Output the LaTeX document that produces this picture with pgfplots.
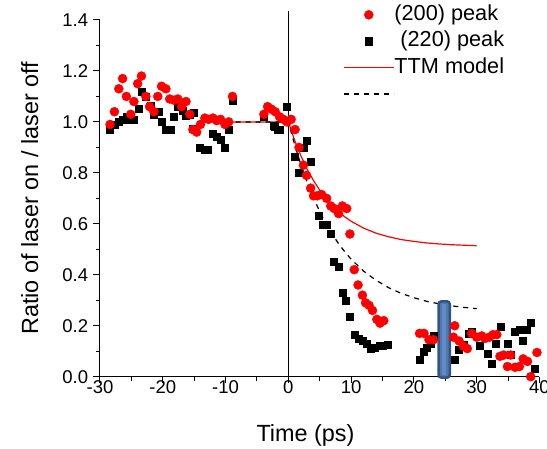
\documentclass[border=0pt]{standalone}
\usepackage{pgfplots}
\pgfplotsset{compat=1.18}
\usepackage{fontspec}
\setmainfont{Liberation Sans}
\definecolor{barfill}{RGB}{79,120,176}
\definecolor{barline}{RGB}{52,84,130}
\definecolor{barlight}{RGB}{98,138,196}
\begin{document}
\begin{tikzpicture}
\begin{axis}[
  at={(0pt,0pt)}, anchor=south west,
  scale only axis, width=439.5pt, height=356.7pt,
  xmin=-30, xmax=40, ymin=0, ymax=1.4,
  clip=false,
  axis lines=left, axis line style={-, line width=1pt},
  xtick={-30,-20,-10,0,10,20,30,40},
  ytick={0,0.2,0.4,0.6,0.8,1.0,1.2,1.4},
  minor x tick num=1, minor y tick num=1,
  tick align=outside, major tick length=6.5pt, minor tick length=4pt,
  every tick/.style={line width=1pt, black},
  /pgf/number format/assume math mode=true,
  y tick label style={/pgf/number format/fixed, /pgf/number format/fixed zerofill, /pgf/number format/precision=1},
  tick label style={font=\fontsize{18.5}{20}\selectfont},
  xticklabel style={anchor=base, yshift=-10pt},
  yticklabel style={anchor=east, inner xsep=0pt, xshift=-5.2pt},
  xlabel={Time (ps)},
  ylabel={Ratio of laser on / laser off},
  label style={font=\fontsize{23.4}{26}\selectfont},
  xlabel style={at={(axis description cs:0.4676,-0.1822)}, anchor=base},
  ylabel style={at={(axis description cs:-0.141,0.5)}, anchor=base},
  legend style={at={(axis description cs:0.5529,1.0437)}, anchor=north west,
    draw=none, fill=none, inner sep=0pt,
    font=\fontsize{21.7}{24}\selectfont, row sep=6pt,
    nodes={inner sep=0pt, text height=15.6pt, text depth=4.8pt},
    /tikz/every even column/.append style={column sep=9pt}},
  legend cell align=left,
  legend image code/.code={\draw[mark repeat=2,mark phase=2,#1] plot coordinates {(0pt,0pt) (25pt,0pt) (50pt,0pt)};},
]
\addplot[black, line width=1pt, forget plot] coordinates {(0,0) (0,1.435)};
% (220) peak
\addplot[black, only marks, mark=square*, mark size=3.5pt, mark options={draw=none, fill=black}, forget plot] coordinates {
(-28.4,0.97) (-27.7,0.99) (-27.1,1.00) (-26.4,1.01) (-25.8,1.02) (-25.1,1.01) (-24.6,1.01)
(-23.9,1.05) (-23.3,1.12) (-22.7,1.10) (-22.0,1.065) (-21.4,1.03) (-20.7,1.04) (-20.1,1.00)
(-19.5,0.97) (-18.8,0.97) (-18.2,1.02) (-17.6,1.06) (-16.9,1.045) (-16.3,1.025) (-15.7,1.03)
(-15.0,1.035) (-15.2,0.975) (-14.1,0.90) (-13.4,0.89) (-12.8,0.89) (-12.0,0.955) (-11.4,0.94)
(-10.8,0.93) (-10.1,0.90) (-9.5,0.97) (-8.9,1.085)
(-3.9,1.02) (-2.4,0.985) (-2.1,0.98) (-1.75,0.97) (-1.4,0.97) (-0.2,1.06)
(1.07,0.865) (1.7,0.80) (2.4,0.90) (2.9,0.925) (3.55,0.845)
(4.9,0.63) (5.5,0.595) (6.1,0.595) (6.75,0.56) (7.3,0.45) (8.0,0.43) (8.6,0.33) (9.1,0.30)
(9.8,0.235) (10.5,0.165) (11.15,0.15) (11.8,0.14) (12.5,0.13) (13.1,0.11) (13.8,0.115)
(14.5,0.12) (15.1,0.12) (15.8,0.125)
(20.9,0.065) (21.5,0.10) (22.0,0.115) (22.6,0.13) (23.2,0.16)
(26.5,0.065) (27.2,0.105) (27.9,0.125) (28.7,0.17) (29.2,0.175) (30.4,0.12) (31.7,0.09)
(32.4,0.05) (33.1,0.13) (33.8,0.195) (34.9,0.13) (35.4,0.085) (36.1,0.175) (36.8,0.185)
(37.4,0.14) (37.9,0.185) (38.6,0.21) (39.3,0.03)
};
% (200) peak
\addplot[red, only marks, mark=*, mark size=4.5pt, mark options={draw=none, fill=red}] coordinates {
(-28.4,0.99) (-27.7,1.04) (-27.0,1.13) (-26.4,1.17) (-25.8,1.10) (-25.1,1.03) (-24.6,1.08)
(-24.0,1.15) (-23.4,1.18) (-22.7,1.10) (-22.1,1.06) (-21.4,1.04) (-20.8,1.10) (-20.2,1.14)
(-19.5,1.13) (-18.9,1.09) (-18.2,1.085) (-17.6,1.09) (-17.0,1.06) (-16.3,1.08) (-15.7,1.03)
(-15.2,0.97) (-14.6,0.96) (-14.0,0.99) (-13.3,1.015) (-12.7,1.01) (-12.0,1.015) (-11.4,1.005)
(-10.8,1.01) (-10.1,0.99) (-9.5,1.00) (-8.9,1.10)
(-3.9,1.03) (-3.3,1.06) (-2.7,1.05) (-2.1,1.04) (-1.4,1.02) (-0.8,1.01) (-0.2,1.00)
(0.45,1.01) (1.07,0.97) (1.7,0.90) (2.4,0.83) (2.9,0.79) (3.55,0.74) (4.0,0.71) (4.6,0.71)
(5.3,0.715) (6.1,0.70) (6.75,0.67) (7.3,0.66) (8.0,0.64) (8.6,0.67) (9.3,0.66) (9.8,0.56)
(10.5,0.42) (11.1,0.36) (11.8,0.32) (12.3,0.29) (12.85,0.28) (13.4,0.26) (14.1,0.225)
(14.6,0.21) (15.2,0.22)
(20.9,0.17) (21.6,0.17) (22.4,0.145) (23.1,0.145)
(26.3,0.155) (26.5,0.20) (27.2,0.14) (27.9,0.12) (28.5,0.11) (29.2,0.17) (30.0,0.155)
(30.8,0.16) (31.3,0.15) (32.0,0.155) (32.6,0.165) (33.2,0.165) (33.7,0.08) (34.3,0.085)
(34.9,0.04) (35.4,0.085) (36.1,0.037) (36.8,0.04) (37.4,0.07) (38.1,0.06) (38.6,0.0) (39.6,0.095)
};
\addlegendentry{(200) peak}
\addlegendimage{black, only marks, mark=square*, mark size=3.7pt, mark options={draw=none, fill=black}}
\addlegendentry{\hspace{6pt}(220) peak}
% TTM model
\addplot[red, line width=1.2pt] coordinates {
(-10,1.0) (0,1.0) (1,0.928) (2,0.867) (3,0.814) (4,0.770) (5,0.732) (6,0.699) (7,0.671)
(8,0.648) (9,0.627) (10,0.610) (12,0.583) (14,0.563) (16,0.549) (18,0.538) (20,0.531)
(22,0.525) (24,0.521) (26,0.518) (28,0.516) (30,0.514)
};
\addlegendentry{TTM model}
\addplot[black, line width=1.2pt, dash pattern=on 5pt off 5pt] coordinates {
(-10,1.0) (0,1.0) (1,0.911) (2,0.832) (3,0.763) (4,0.702) (5,0.648) (6,0.601) (7,0.559)
(8,0.522) (9,0.490) (10,0.461) (12,0.414) (14,0.378) (16,0.349) (18,0.327) (20,0.310)
(22,0.296) (24,0.286) (26,0.278) (28,0.272) (30,0.267)
};
\addlegendentry{}
\draw[fill=barfill, draw=barline, line width=2.5pt, rounded corners=3pt]
  (axis cs:23.92,-0.004) rectangle (axis cs:25.72,0.296);
\fill[barlight] (axis cs:24.55,0.005) rectangle (axis cs:25.1,0.287);
\end{axis}
\pgfresetboundingbox
\path (-100pt,-72.3pt) rectangle (447pt,376.7pt);
\end{tikzpicture}
\end{document}
